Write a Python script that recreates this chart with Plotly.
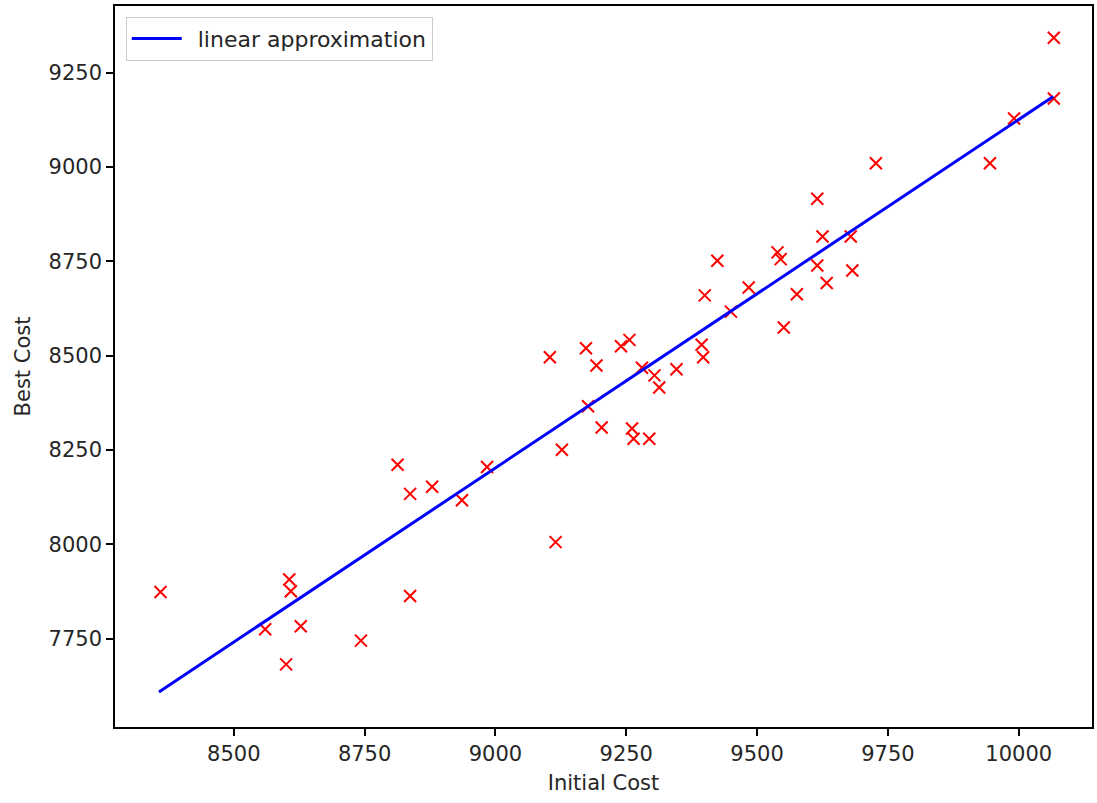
import plotly.graph_objects as go

initial_cost = [8360, 8606, 8609, 8560, 8628, 8600, 8743, 8837, 8813, 8837,
                8879, 8936, 8984, 9104, 9173, 9193, 9240, 9256, 9177, 9203,
                9127, 9261, 9264, 9294, 9280, 9304, 9313, 9346, 9394, 9397,
                9400, 9450, 9484, 9424, 9115, 10067, 10067, 9991, 9945, 9727,
                9615, 9625, 9679, 9539, 9545, 9615, 9682, 9633, 9576, 9551]
best_cost = [7874, 7907, 7876, 7775, 7783, 7682, 7745, 7863, 8211, 8134,
             8153, 8117, 8205, 8496, 8520, 8474, 8525, 8542, 8366, 8310,
             8251, 8307, 8280, 8280, 8468, 8448, 8416, 8464, 8529, 8496,
             8660, 8617, 8681, 8752, 8006, 9343, 9182, 9129, 9010, 9010,
             8916, 8816, 8816, 8774, 8756, 8739, 8726, 8693, 8663, 8575]

fit_x = [8357, 10066]
fit_y = [7609, 9187]

x_ticks = [8500, 8750, 9000, 9250, 9500, 9750, 10000]
x_ticklabels = ["8500", "8750", "9000", "9250", "9500", "9750", "10000"]
y_ticks = [7750, 8000, 8250, 8500, 8750, 9000, 9250]
y_ticklabels = ["7750", "8000", "8250", "8500", "8750", "9000", "9250"]

fig = go.Figure()
fig.add_trace(go.Scatter(
    x=initial_cost, y=best_cost, mode="markers", showlegend=False,
    marker=dict(symbol="x-thin", size=12, line=dict(color="red", width=2), color="red"),
))
fig.add_trace(go.Scatter(
    x=fit_x, y=fit_y, mode="lines", name="\u2002linear approximation",
    line=dict(color="blue", width=3),
))

axis_common = dict(
    showline=True, linecolor="black", linewidth=1.6, mirror=True,
    ticks="outside", ticklen=7, tickwidth=1.6, tickcolor="black",
    showgrid=False, zeroline=False,
    tickfont=dict(family="DejaVu Sans", size=21, color="#262626"),
)

fig.update_layout(
    width=1097, height=803,
    margin=dict(l=115, r=3, t=6, b=76),
    paper_bgcolor="white", plot_bgcolor="white",
    font=dict(family="DejaVu Sans", color="#262626"),
    xaxis=dict(range=[8273, 10140], tickvals=x_ticks, ticktext=x_ticklabels,
               title=dict(text="Initial Cost", font=dict(size=21), standoff=10),
               **axis_common),
    yaxis=dict(range=[7516, 9427], tickvals=y_ticks, ticktext=y_ticklabels,
               title=dict(text="Best Cost", font=dict(size=21), standoff=12),
               **axis_common),
    legend=dict(x=0.011, y=0.985, xanchor="left", yanchor="top",
                bgcolor="rgba(255,255,255,0.8)", bordercolor="#cccccc", borderwidth=1,
                itemwidth=50,
                font=dict(family="DejaVu Sans", size=22, color="#262626")),
)

fig.write_html("out.html")
